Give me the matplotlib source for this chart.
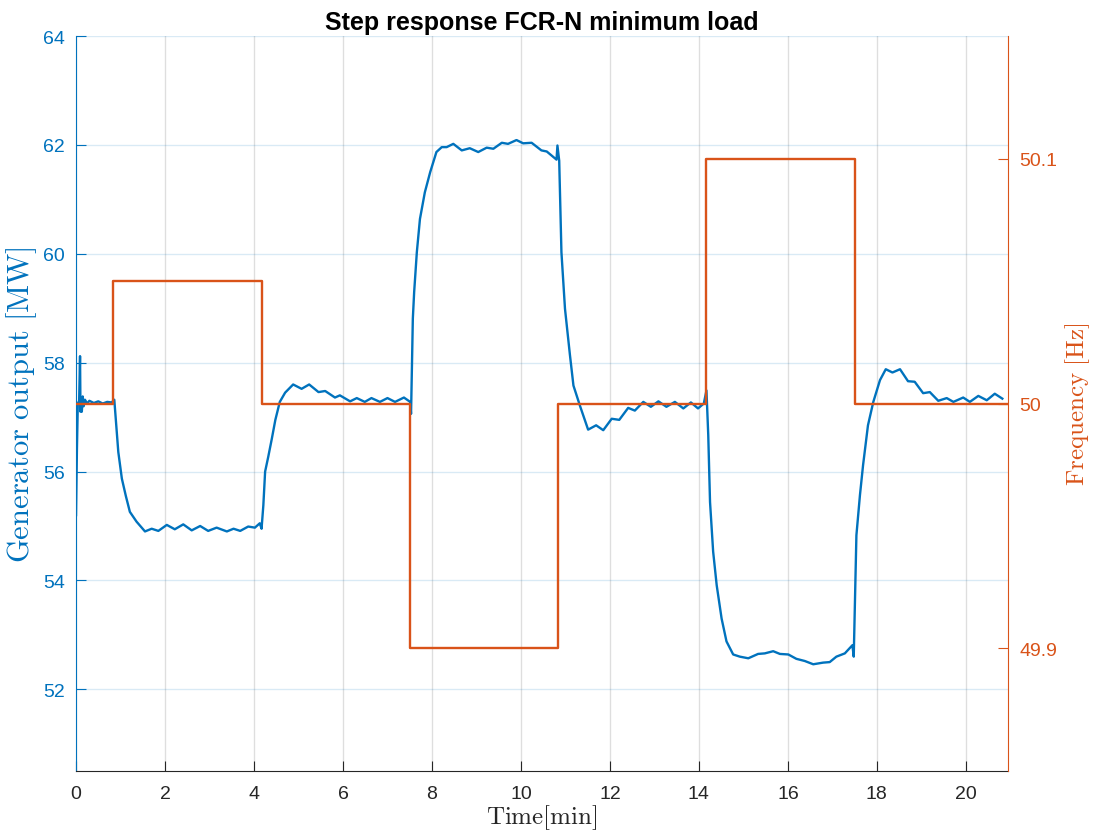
import matplotlib
matplotlib.use('Agg')
import matplotlib.pyplot as plt

plt.rcParams['font.family'] = ['Liberation Sans', 'DejaVu Sans']
plt.rcParams['mathtext.fontset'] = 'cm'

BLUE = '#0072BD'
ORANGE = '#D95319'
DARK = '#262626'

# generator output
time_min = [0.00, 0.02, 0.04, 0.07, 0.09, 0.10, 0.12, 0.13, 0.15, 0.17, 0.20, 0.25,
            0.30, 0.40, 0.50, 0.60, 0.70, 0.80, 0.86, 0.90, 0.95, 1.03, 1.12, 1.21,
            1.36, 1.55, 1.70, 1.85, 2.04, 2.22, 2.41, 2.60, 2.79, 2.97, 3.16, 3.39,
            3.54, 3.69, 3.87, 4.02, 4.13, 4.17, 4.21, 4.25, 4.32, 4.40, 4.48, 4.58,
            4.70, 4.88, 5.07, 5.24, 5.45, 5.60, 5.82, 5.93, 6.16, 6.31, 6.49, 6.64,
            6.83, 7.00, 7.17, 7.37, 7.51, 7.53, 7.57, 7.60, 7.66, 7.73, 7.84, 7.96,
            8.10, 8.22, 8.33, 8.48, 8.67, 8.85, 9.04, 9.23, 9.38, 9.57, 9.71, 9.90,
            10.05, 10.24, 10.46, 10.58, 10.80, 10.82, 10.86, 10.91, 10.99, 11.10, 11.18, 11.33,
            11.51, 11.69, 11.85, 12.04, 12.21, 12.41, 12.56, 12.75, 12.92, 13.09, 13.27, 13.46,
            13.65, 13.82, 13.98, 14.11, 14.17, 14.21, 14.25, 14.32, 14.40, 14.51, 14.62, 14.77,
            14.92, 15.11, 15.33, 15.48, 15.67, 15.82, 16.01, 16.19, 16.38, 16.57, 16.79, 16.94,
            17.09, 17.28, 17.45, 17.48, 17.54, 17.62, 17.69, 17.80, 17.92, 18.07, 18.20, 18.35,
            18.52, 18.70, 18.85, 19.04, 19.19, 19.38, 19.57, 19.72, 19.94, 20.09, 20.28, 20.47,
            20.65, 20.82]
power_mw = [55.20, 56.40, 57.25, 57.30, 58.12, 57.10, 57.35, 57.10, 57.38, 57.20, 57.32, 57.25,
            57.30, 57.26, 57.29, 57.25, 57.28, 57.27, 57.32, 56.90, 56.36, 55.87, 55.55, 55.26,
            55.08, 54.90, 54.95, 54.91, 55.02, 54.94, 55.03, 54.92, 55.00, 54.91, 54.97, 54.90,
            54.95, 54.91, 54.99, 54.97, 55.05, 54.95, 55.38, 56.00, 56.27, 56.60, 56.95, 57.28,
            57.45, 57.60, 57.52, 57.60, 57.46, 57.48, 57.36, 57.40, 57.29, 57.35, 57.28, 57.35,
            57.28, 57.35, 57.28, 57.36, 57.28, 57.06, 58.81, 59.30, 60.03, 60.64, 61.13, 61.50,
            61.87, 61.96, 61.96, 62.02, 61.90, 61.94, 61.87, 61.95, 61.93, 62.04, 62.02, 62.09,
            62.03, 62.04, 61.90, 61.88, 61.73, 61.99, 61.71, 60.03, 58.99, 58.15, 57.58, 57.20,
            56.77, 56.85, 56.76, 56.97, 56.95, 57.17, 57.12, 57.28, 57.19, 57.29, 57.19, 57.28,
            57.16, 57.27, 57.16, 57.25, 57.49, 56.67, 55.44, 54.53, 53.91, 53.30, 52.88, 52.64,
            52.60, 52.57, 52.65, 52.66, 52.70, 52.65, 52.64, 52.56, 52.52, 52.46, 52.49, 52.50,
            52.60, 52.66, 52.81, 52.60, 54.83, 55.57, 56.12, 56.85, 57.28, 57.68, 57.88, 57.82,
            57.88, 57.66, 57.65, 57.44, 57.46, 57.30, 57.35, 57.28, 57.36, 57.28, 57.39, 57.31,
            57.43, 57.34]

# frequency set-point steps
step_time = [0.0, 0.83, 4.17, 7.50, 10.83, 14.17, 17.50, 20.95]
step_freq = [50.0, 50.05, 50.0, 49.9, 50.0, 50.1, 50.0, 50.0]

fig = plt.figure(figsize=(10.94, 8.37), dpi=100)
ax = fig.add_axes([0.0695, 0.0777, 0.852, 0.878])
ax2 = ax.twinx()

ax.plot(time_min, power_mw, color=BLUE, lw=1.7)
ax2.plot(step_time, step_freq, color=ORANGE, lw=1.7, drawstyle='steps-post')

ax.set_xlim(0, 20.95)
ax.set_ylim(50.5, 64)
ax2.set_ylim(49.85, 50.15)
ax.set_xticks(range(0, 21, 2))
ax.set_yticks(range(52, 65, 2))
ax2.set_yticks([49.9, 50.0, 50.1])
ax2.set_yticklabels(['49.9', '50', '50.1'])

ax.xaxis.grid(True, color=DARK, alpha=0.15, lw=1.0)
ax.yaxis.grid(True, color=BLUE, alpha=0.15, lw=1.0)

for a in (ax, ax2):
    a.spines['top'].set_visible(False)
ax2.spines['left'].set_visible(False)
ax2.spines['bottom'].set_visible(False)
ax.spines['right'].set_visible(False)
ax.spines['left'].set_color(BLUE)
ax.spines['bottom'].set_color(DARK)
ax2.spines['right'].set_color(ORANGE)

ax.tick_params(axis='x', direction='in', length=7, colors=DARK, labelsize=14, pad=10)
ax.tick_params(axis='y', direction='in', length=7, colors=BLUE, labelsize=14, pad=8)
ax2.tick_params(axis='y', direction='in', length=7, colors=ORANGE, labelsize=14, pad=8)

ax.set_xlabel(r'$\mathrm{Time[min]}$', fontsize=18, color=DARK, labelpad=0)
ax.set_ylabel(r'$\mathrm{Generator\ output\ [MW]}$', fontsize=22, color=BLUE, labelpad=3)
ax2.set_ylabel(r'$\mathrm{Frequency\ [Hz]}$', fontsize=18, color=ORANGE, labelpad=4)
ax.set_title('Step response FCR-N minimum load', fontsize=18, fontweight='bold', pad=5)

fig.savefig('out.png', dpi=100)
